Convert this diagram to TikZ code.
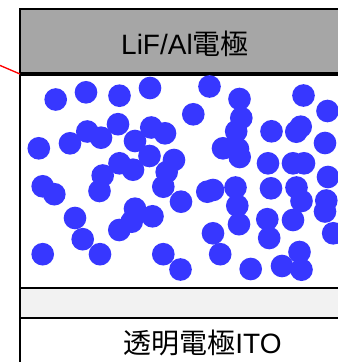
\documentclass[tikz,border=0pt]{standalone}
\usepackage{fontspec}
\setmainfont{Liberation Sans}
\newfontfamily\cjk{Noto Sans CJK JP}
\definecolor{ballblue}{RGB}{55,55,255}
\definecolor{topgray}{RGB}{166,166,166}
\definecolor{lightband}{RGB}{242,242,242}
\begin{document}
\begin{tikzpicture}[x=0.75pt,y=-0.75pt,
  layer/.style={draw=black,line width=1.9pt},
  ball/.style={fill=ballblue},
  label/.style={font=\fontsize{21pt}{24pt}\selectfont,inner sep=0pt,anchor=center}]
\useasboundingbox (0,0) rectangle (338,362);
\clip (0,0) rectangle (338,362);
% layers
\draw[layer,fill=topgray] (20,9) rectangle (350,74);
\draw[layer,fill=white] (20,74) rectangle (350,288);
\draw[layer,fill=lightband] (20,288) rectangle (350,318);
\draw[layer,fill=white] (20,318) rectangle (350,380);
\coordinate (divl) at (20,74);
\coordinate (divr) at (350,74);
\draw[line width=2.5pt] (divl) -- (divr);
% labels
\node[label] (top) at (185,44) {LiF/Al{\cjk 電極}};
\node[label] (bot) at (202.5,343) {{\cjk 透明電極}ITO};
% red lead
\coordinate (lead) at (-1,65);
\draw[red,line width=1pt] (lead) -- (divl);
% particles
\foreach \x/\y in {
55.7/99.5, 86/92.3, 119.5/95.7, 150/88, 209.5/86.5, 239.5/99, 303.5/95.5, 327.5/111,
193.3/114.3, 241.3/118, 118/124.2, 87.3/131.5, 101/137.7, 70/143.3, 38.8/148.3,
135/141, 151.3/127.5, 165/133.3, 236.2/131.3, 271.5/131.3, 296.3/131.7, 300.7/126.7,
325/143, 223/148.3, 238/149, 239.7/157, 149.5/156, 174/160, 119.5/163.3, 133/169.7,
102.7/175.5, 166.7/172, 268/163.3, 293/163.3, 304/163.3, 328/177, 42.7/186.3,
54.3/194.2, 99.5/191, 163.3/186.7, 181/201.7, 207.3/191.7, 213/190, 235.5/187.5,
237.3/205.7, 239/224.2, 271/188.3, 296.5/187.5, 301.5/201, 326.3/200.5, 325/211.5,
75/218, 82.7/239.2, 135/208.7, 131.7/221.7, 119.3/230, 152.5/216.3, 213/233.3,
267.3/219.2, 269.2/238, 293/220, 333.2/233.3, 42.7/254.2, 100/254.2, 163.3/254.2,
180.5/269.5, 220.2/254.2, 250.7/269, 282/266, 299.5/252, 301.5/269.7}
  \fill[ball] (\x,\y) circle[radius=8.5pt];
\end{tikzpicture}
\end{document}
